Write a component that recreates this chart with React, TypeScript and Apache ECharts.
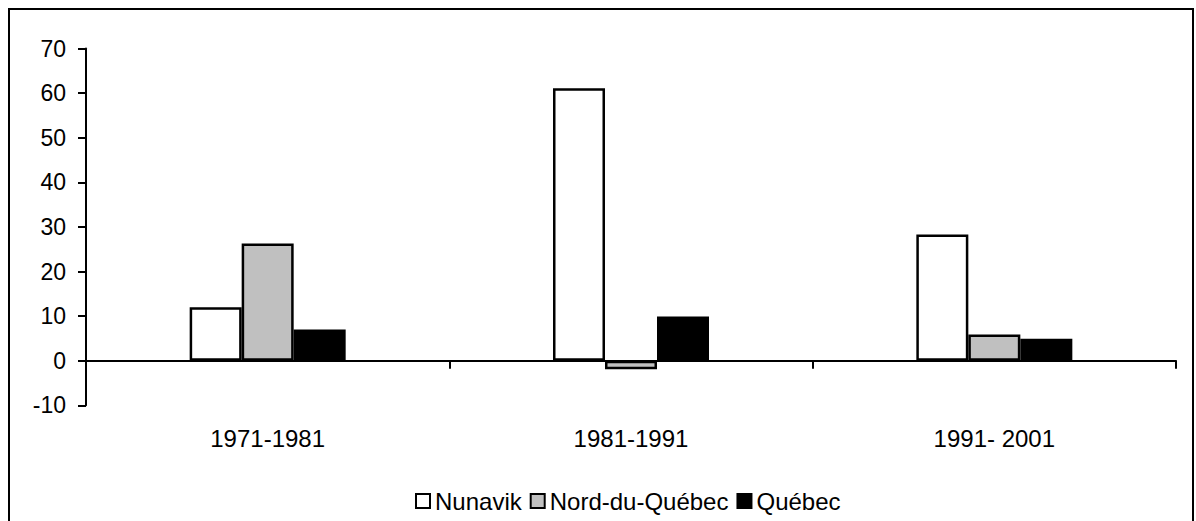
import React, { useEffect, useRef } from "react";
import * as echarts from "echarts";

const categories = ["1971-1981", "1981-1991", "1991- 2001"];
const seriesNames = ["Nunavik", "Nord-du-Québec", "Québec"];
const nunavik = [12.0, 61.1, 28.3];
const nordDuQuebec = [26.3, -1.9, 5.9];
const quebec = [7.0, 9.9, 4.9];
const seriesColors = ["#FFFFFF", "#C0C0C0", "#000000"];
const yMin = -10;
const yMax = 70;
const yInterval = 10;

const FONT = '"Liberation Sans", Arial, sans-serif';

export default function App() {
  const ref = useRef<HTMLDivElement>(null);
  useEffect(() => {
    if (!ref.current) return;
    const chart = echarts.init(ref.current, null, { renderer: "svg" });
    const values = [nunavik, nordDuQuebec, quebec];
    chart.setOption({
      animation: false,
      backgroundColor: "transparent",
      textStyle: { fontFamily: FONT },
      grid: { left: 86, top: 48.6, right: 20, bottom: 115.7, containLabel: false },
      legend: {
        left: 410,
        top: 484,
        itemWidth: 14,
        itemHeight: 14,
        itemGap: 8,
        icon: "rect",
        textStyle: { fontSize: 24, color: "#000", fontFamily: FONT },
        data: seriesNames,
      },
      xAxis: {
        type: "category",
        data: categories,
        boundaryGap: true,
        axisLine: { onZero: true, lineStyle: { color: "#000", width: 2 } },
        axisTick: { show: true, length: 8, lineStyle: { color: "#000", width: 2 }, alignWithLabel: false },
        axisLabel: { fontSize: 24, color: "#000", margin: 21, fontFamily: FONT },
        splitLine: { show: false },
      },
      yAxis: {
        type: "value",
        min: yMin,
        max: yMax,
        interval: yInterval,
        axisLine: { show: true, lineStyle: { color: "#000", width: 2 } },
        axisTick: { show: true, length: 8, lineStyle: { color: "#000", width: 2 } },
        axisLabel: { fontSize: 23, color: "#000", margin: 20, fontFamily: FONT },
        splitLine: { show: false },
      },
      series: seriesNames.map((name, i) => ({
        name,
        type: "bar",
        data: values[i],
        barWidth: 52,
        barGap: "0%",
        itemStyle: { color: seriesColors[i], borderColor: "#000", borderWidth: 2.5 },
      })),
    });
    return () => chart.dispose();
  }, []);
  return (
    <div style={{ position: "fixed", left: 0, top: 0, width: 1196, height: 521, overflow: "hidden", background: "#fff" }}>
      <div
        style={{
          position: "absolute",
          left: 8,
          top: 8,
          width: 1186,
          height: 540,
          border: "2px solid #000",
          boxSizing: "border-box",
        }}
      />
      <div ref={ref} style={{ position: "absolute", left: 0, top: 0, width: 1196, height: 521 }} />
    </div>
  );
}
